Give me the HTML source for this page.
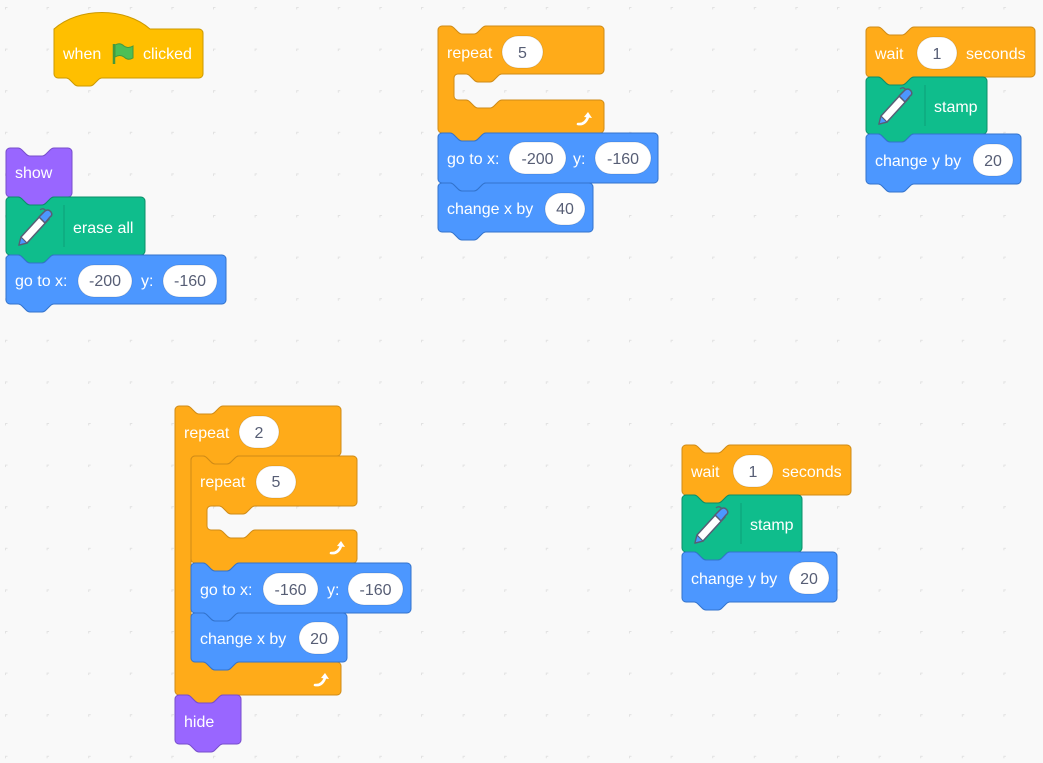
<!DOCTYPE html>
<html><head><meta charset="utf-8"><style>
html,body{margin:0;padding:0;background:#F9F9F9;}
svg{display:block}
text{font-family:"Liberation Sans",Arial,sans-serif;font-size:16px;fill:#fff}
text.v{fill:#575E75;text-anchor:middle}
</style></head><body>
<svg id="s" width="1043" height="763" viewBox="0 0 1043 763" xmlns="http://www.w3.org/2000/svg">
<defs>
<pattern id="dots" x="5" y="7" width="41.6" height="41.6" patternUnits="userSpaceOnUse">
<rect x="0" y="-1.5" width="1" height="4" fill="#e2e2e2"/><rect x="-1.5" y="0" width="4" height="1" fill="#e2e2e2"/>
</pattern>
<g id="pen">
<path d="M4,38 L6,30 L28,6 L34,12 L12,36 Z" fill="#fff" stroke="#575E75" stroke-width="1.5" stroke-linejoin="round"/>
<path d="M24,10 L30,4 Q33,2 35,4 L36,5 Q38,8 35,10 L30,16 Z" fill="#4C97FF" stroke="#575E75" stroke-width="1.5" stroke-linejoin="round"/>
<path d="M4,38 L6,30 L12,36 Z" fill="#4C97FF" stroke="#575E75" stroke-width="1.2"/>
<path d="M31,4 Q28,0 25,3" fill="none" stroke="#575E75" stroke-width="1.2"/>
</g>
<g id="arr">
<path d="M-7,5 Q0,6 3,-2" fill="none" stroke="#fff" stroke-width="2.6" stroke-linecap="round"/>
<path d="M-1,-2 L3,-7 L7,-1 Z" fill="#fff"/>
</g>
</defs>
<rect width="1043" height="763" fill="url(#dots)"/>
<g id="blocks"></g>
<g id="fg">
<text x="63" y="59">when</text>
<g transform="translate(112,43)"><path d="M2,1 L2,21" stroke="#45993D" stroke-width="2.5"/><path d="M3,2 Q8,-1 12,3 Q16,6 21,3 L21,15 Q16,18 12,14 Q8,11 3,14 Z" fill="#4CBF56" stroke="#45993D" stroke-width="1"/></g>
<text x="143" y="59">clicked</text>
<text x="15" y="178">show</text>
<use href="#pen" x="15" y="207"/>
<line x1="64" y1="205" x2="64" y2="247" stroke="rgba(0,0,0,0.15)"/>
<text x="73" y="233">erase all</text>
<text x="15" y="286">go to x:</text>
<rect x="78" y="265" width="54" height="32" rx="16" fill="#fff" stroke="rgba(0,0,0,.12)"/><text class="v" x="105" y="286">-200</text>
<text x="141" y="286">y:</text>
<rect x="163" y="265" width="54" height="32" rx="16" fill="#fff" stroke="rgba(0,0,0,.12)"/><text class="v" x="190" y="286">-160</text>
<text x="447" y="58">repeat</text>
<rect x="502" y="36" width="41" height="32" rx="16" fill="#fff" stroke="rgba(0,0,0,.12)"/><text class="v" x="522.5" y="58">5</text>
<use href="#arr" x="585" y="119"/>
<text x="447" y="164">go to x:</text>
<rect x="509" y="142" width="57" height="32" rx="16" fill="#fff" stroke="rgba(0,0,0,.12)"/><text class="v" x="537.5" y="164">-200</text>
<text x="573" y="164">y:</text>
<rect x="595" y="142" width="56" height="32" rx="16" fill="#fff" stroke="rgba(0,0,0,.12)"/><text class="v" x="623" y="164">-160</text>
<text x="447" y="214">change x by</text>
<rect x="545" y="193" width="40" height="32" rx="16" fill="#fff" stroke="rgba(0,0,0,.12)"/><text class="v" x="565" y="214">40</text>
<text x="875" y="59">wait</text>
<rect x="917" y="37" width="40" height="32" rx="16" fill="#fff" stroke="rgba(0,0,0,.12)"/><text class="v" x="937" y="59">1</text>
<text x="966" y="59">seconds</text>
<use href="#pen" x="875" y="86"/>
<line x1="925" y1="85" x2="925" y2="126" stroke="rgba(0,0,0,0.15)"/>
<text x="934" y="112">stamp</text>
<text x="875" y="166">change y by</text>
<rect x="973" y="144" width="40" height="32" rx="16" fill="#fff" stroke="rgba(0,0,0,.12)"/><text class="v" x="993" y="166">20</text>
<text x="184" y="438">repeat</text>
<rect x="239" y="416" width="40" height="32" rx="16" fill="#fff" stroke="rgba(0,0,0,.12)"/><text class="v" x="259" y="438">2</text>
<text x="200" y="487">repeat</text>
<rect x="256" y="466" width="40" height="32" rx="16" fill="#fff" stroke="rgba(0,0,0,.12)"/><text class="v" x="276" y="487">5</text>
<use href="#arr" x="338" y="548"/>
<text x="200" y="595">go to x:</text>
<rect x="263" y="573" width="55" height="32" rx="16" fill="#fff" stroke="rgba(0,0,0,.12)"/><text class="v" x="290.5" y="595">-160</text>
<text x="327" y="595">y:</text>
<rect x="348" y="573" width="55" height="32" rx="16" fill="#fff" stroke="rgba(0,0,0,.12)"/><text class="v" x="375.5" y="595">-160</text>
<text x="200" y="644">change x by</text>
<rect x="299" y="622" width="40" height="32" rx="16" fill="#fff" stroke="rgba(0,0,0,.12)"/><text class="v" x="319" y="644">20</text>
<use href="#arr" x="322" y="680"/>
<text x="184" y="727">hide</text>
<text x="691" y="477">wait</text>
<rect x="733" y="455" width="40" height="32" rx="16" fill="#fff" stroke="rgba(0,0,0,.12)"/><text class="v" x="753" y="477">1</text>
<text x="782" y="477">seconds</text>
<use href="#pen" x="691" y="505"/>
<line x1="741" y1="503" x2="741" y2="544" stroke="rgba(0,0,0,0.15)"/>
<text x="750" y="530">stamp</text>
<text x="691" y="584">change y by</text>
<rect x="789" y="562" width="40" height="32" rx="16" fill="#fff" stroke="rgba(0,0,0,.12)"/><text class="v" x="809" y="584">20</text>
</g>
</svg>
<script>
(function(){
var NT="c2,0 3,1 4,2 l4,4 c1,1 2,2 4,2 h12 c2,0 3,-1 4,-2 l4,-4 c1,-1 2,-2 4,-2";
var NB="c-2,0 -3,1 -4,2 l-4,4 c-1,1 -2,2 -4,2 h-12 c-2,0 -3,-1 -4,-2 l-4,-4 c-1,-1 -2,-2 -4,-2";
function bot(x,y2,w){return "V"+(y2-4)+" a4,4 0 0 1 -4,4 H"+(x+48)+" "+NB+" H"+(x+4)+" a4,4 0 0 1 -4,-4 Z";}
function tp(x,y,w){return "M"+x+","+(y+4)+" a4,4 0 0 1 4,-4 H"+(x+12)+" "+NT+" H"+(x+w-4)+" a4,4 0 0 1 4,4 ";}
function stack(x,y,w,h){return tp(x,y,w)+bot(x,y+h,w);}
function hat(x,y,w,h){return "M"+x+","+y+" c25,-22 71,-22 96,0 H"+(x+w-4)+" a4,4 0 0 1 4,4 "+bot(x,y+h,w);}
function cblk(x,y,w,h1,innerEnd,w2,yEnd){
 var ix=x+16;
 return tp(x,y,w)+"V"+(y+h1-4)+" a4,4 0 0 1 -4,4 H"+(ix+48)+" "+NB+" H"+(ix+4)+" a4,4 0 0 0 -4,4 V"+(innerEnd-4)+" a4,4 0 0 0 4,4 H"+(ix+12)+" "+NT+" H"+(x+w2-4)+" a4,4 0 0 1 4,4 "+bot(x,yEnd,w2);
}
var C={o:["#FFAB19","#CF8B17"],h:["#FFBF00","#CC9900"],p:["#9966FF","#774DCB"],g:["#0FBD8C","#0B8E69"],b:["#4C97FF","#3373CC"]};
var L=[
 [hat(54,29,149,49),"h"],
 [stack(6,148,66,49),"p"],[stack(6,197,139,58),"g"],[stack(6,255,220,49),"b"],
 [cblk(438,26,166,48,100,166,133),"o"],[stack(438,133,220,50),"b"],[stack(438,183,155,49),"b"],
 [stack(866,27,169,50),"o"],[stack(866,77,121,57),"g"],[stack(866,134,155,50),"b"],
 [cblk(175,406,166,50,662,166,695),"o"],[cblk(191,456,166,50,530,166,563),"o"],
 [stack(191,563,220,50),"b"],[stack(191,613,156,49),"b"],[stack(175,695,66,49),"p"],
 [stack(682,445,169,50),"o"],[stack(682,495,120,57),"g"],[stack(682,552,155,50),"b"]
];
var g=document.getElementById("blocks"),ns="http://www.w3.org/2000/svg";
L.forEach(function(b){var p=document.createElementNS(ns,"path");p.setAttribute("d",b[0]);p.setAttribute("fill",C[b[1]][0]);p.setAttribute("stroke",C[b[1]][1]);p.setAttribute("stroke-width","1");g.appendChild(p);});
})();
</script>
</body></html>
